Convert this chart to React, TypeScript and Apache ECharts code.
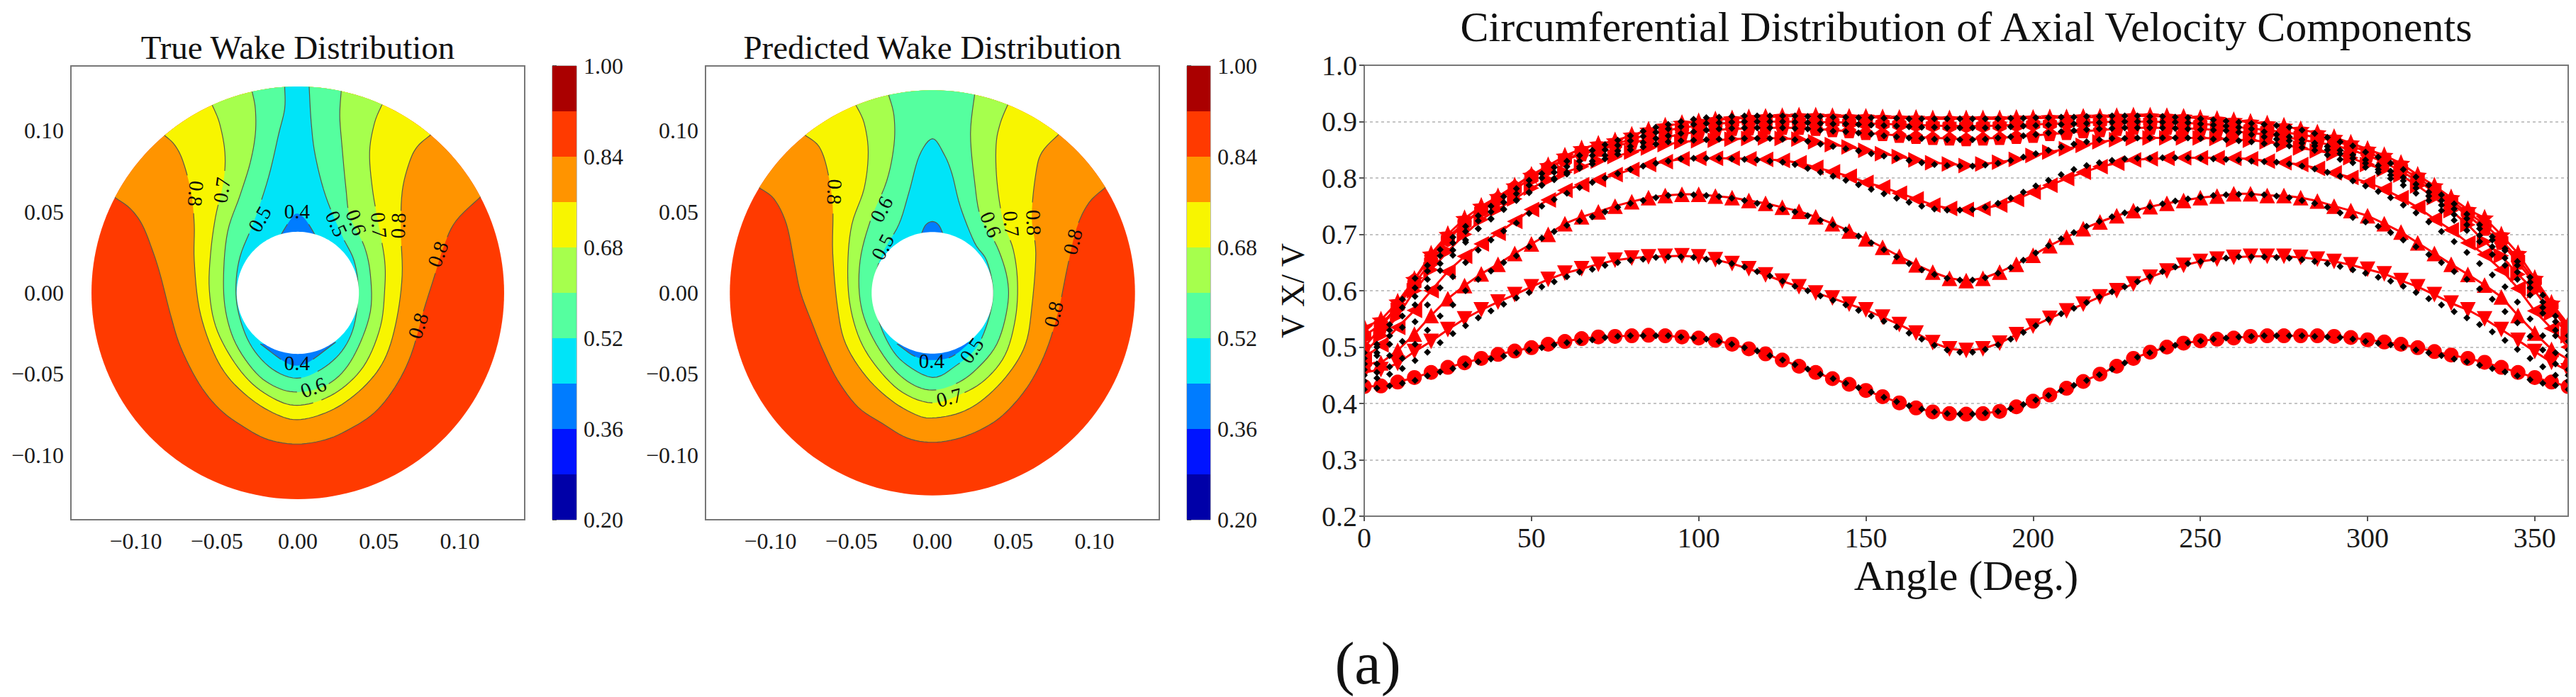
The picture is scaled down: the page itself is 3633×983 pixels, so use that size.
import React, { useEffect, useRef } from "react";
import * as echarts from "echarts";

const SERIF = "Liberation Serif";

// Colour bar levels and colours
const barLevels = [0.2, 0.28, 0.36, 0.44, 0.52, 0.6, 0.68, 0.76, 0.84, 0.92, 1.0];
const barColors = ["#0000a8", "#0014ff", "#007cff", "#00e4f8", "#55ff9f", "#a6ff4d", "#f8f500", "#ff9400", "#ff3a00", "#aa0000"];
const barTicks = [0.2, 0.36, 0.52, 0.68, 0.84, 1.0];
const discTicks = [-0.1, -0.05, 0, 0.05, 0.1];

// True wake: disc radii and contour lines [x, y]
const trueOuterR = 0.1273;
const trueInnerR = 0.0377;
const true84 = [[-.1130,.0589],[-.1036,.0522],[-.0961,.0422],[-.0898,.0266],[-.0848,.0109],[-.0785,-.0136],[-.0722,-.0337],[-.0609,-.0560],[-.0483,-.0717],[-.0332,-.0828],[-.0181,-.0906],[-.0005,-.0933],[.0171,-.0906],[.0322,-.0839],[.0473,-.0739],[.0599,-.0583],[.0699,-.0382],[.0775,-.0114],[.0838,.0087],[.0901,.0288],[.0976,.0444],[.1122,.0589]];
const true76 = [[-.0825,.0975],[-.0760,.0913],[-.0709,.0813],[-.0659,.0623],[-.0639,.0422],[-.0639,.0199],[-.0609,-.0092],[-.0533,-.0337],[-.0433,-.0516],[-.0282,-.0661],[-.0131,-.0750],[-.0005,-.0783],[.0146,-.0750],[.0297,-.0672],[.0448,-.0538],[.0548,-.0382],[.0611,-.0158],[.0644,.0109],[.0636,.0377],[.0644,.0623],[.0687,.0801],[.0737,.0902],[.0820,.0975]];
const true68 = [[-.0528,.1158],[-.0483,.1047],[-.0450,.0868],[-.0458,.0690],[-.0508,.0467],[-.0538,.0243],[-.0546,.0020],[-.0508,-.0203],[-.0408,-.0404],[-.0282,-.0560],[-.0131,-.0661],[-.0005,-.0694],[.0146,-.0661],[.0297,-.0571],[.0423,-.0426],[.0511,-.0203],[.0536,.0020],[.0536,.0199],[.0498,.0422],[.0460,.0645],[.0443,.0868],[.0473,.1047],[.0518,.1158]];
const true60 = [[-.0282,.1243],[-.0262,.1136],[-.0262,.0980],[-.0294,.0801],[-.0357,.0600],[-.0433,.0377],[-.0458,.0109],[-.0445,-.0114],[-.0382,-.0315],[-.0257,-.0495],[-.0131,-.0583],[-.0005,-.0612],[.0146,-.0583],[.0272,-.0495],[.0372,-.0337],[.0448,-.0114],[.0448,.0109],[.0410,.0288],[.0322,.0468],[.0297,.0645],[.0272,.0913],[.0259,.1092],[.0267,.1241]];
const true52 = [[-.0081,.1270],[-.0081,.1136],[-.0118,.0980],[-.0181,.0712],[-.0269,.0444],[-.0357,.0221],[-.0382,.0020],[-.0357,-.0158],[-.0282,-.0337],[-.0156,-.0471],[-.0005,-.0527],[.0146,-.0471],[.0272,-.0359],[.0347,-.0203],[.0372,.0020],[.0347,.0199],[.0272,.0355],[.0171,.0600],[.0108,.0846],[.0083,.1047],[.0070,.1270]];
const true44Top = [[-.0106,.0355],[-.0043,.0455],[-.0005,.0489],[.0045,.0455],[.0108,.0355]];
const true44Bottom = [[-.0231,-.0315],[-.0081,-.0426],[-.0005,-.0449],[.0070,-.0426],[.0234,-.0304]];
// [text, x, y, rotation in degrees]
const trueLabels: [string, number, number, number][] = [
  ["0.8",-.0629,.0612,-95],["0.7",-.0470,.0634,82],["0.5",-.0236,.0455,60],["0.4",-.0005,.0504,0],
  ["0.5",.0239,.0427,-65],["0.6",.0361,.0435,-70],["0.7",.0501,.0418,-85],["0.8",.0619,.0414,88],
  ["0.8",.0864,.0239,70],["0.8",.0742,-.0203,72],["0.4",-.0005,-.0431,0],["0.6",.0096,-.0583,20],
];

// Predicted wake
const predOuterR = 0.125;
const predInnerR = 0.0375;
const pred84 = [[-.1072,.0650],[-.0976,.0578],[-.0900,.0422],[-.0850,.0176],[-.0812,-.0002],[-.0736,-.0203],[-.0673,-.0359],[-.0585,-.0538],[-.0459,-.0705],[-.0308,-.0806],[-.0156,-.0895],[0,-.0922],[.0172,-.0895],[.0348,-.0817],[.0474,-.0717],[.0600,-.0560],[.0701,-.0359],[.0777,-.0114],[.0832,.0154],[.0890,.0400],[.0966,.0556],[.1067,.0650]];
const pred76 = [[-.0787,.0975],[-.0699,.0902],[-.0648,.0757],[-.0615,.0533],[-.0615,.0243],[-.0585,-.0092],[-.0535,-.0315],[-.0409,-.0516],[-.0257,-.0661],[-.0106,-.0750],[0,-.0772],[.0172,-.0739],[.0323,-.0650],[.0474,-.0493],[.0575,-.0315],[.0613,-.0092],[.0638,.0243],[.0613,.0467],[.0638,.0734],[.0676,.0868],[.0777,.0975]];
const pred68 = [[-.0472,.1158],[-.0421,.1047],[-.0396,.0868],[-.0421,.0645],[-.0497,.0422],[-.0522,.0176],[-.0509,-.0069],[-.0446,-.0292],[-.0333,-.0471],[-.0182,-.0616],[0,-.0679],[.0172,-.0627],[.0323,-.0538],[.0449,-.0382],[.0512,-.0158],[.0525,.0065],[.0499,.0266],[.0436,.0444],[.0398,.0690],[.0393,.0913],[.0419,.1047],[.0464,.1158]];
const pred60 = [[-.0270,.1221],[-.0237,.1092],[-.0237,.0913],[-.0282,.0690],[-.0383,.0444],[-.0446,.0199],[-.0446,-.0047],[-.0383,-.0248],[-.0257,-.0449],[-.0131,-.0560],[0,-.0600],[.0146,-.0560],[.0272,-.0471],[.0398,-.0315],[.0462,-.0092],[.0462,.0087],[.0398,.0288],[.0298,.0467],[.0260,.0690],[.0235,.0980],[.0260,.1221]];
const pred52 = [[0,.0951],[-.0081,.0846],[-.0144,.0623],[-.0207,.0422],[-.0308,.0243],[-.0358,.0065],[-.0346,-.0114],[-.0282,-.0292],[-.0182,-.0426],[0,-.0522],[.0146,-.0449],[.0272,-.0337],[.0348,-.0158],[.0373,.0020],[.0335,.0199],[.0260,.0310],[.0172,.0533],[.0121,.0734],[.0071,.0857]];
const pred44Top = [[-.0073,.0350],[-.0043,.0417],[0,.0440],[.0040,.0417],[.0071,.0350]];
const pred44Bottom = [[-.0219,-.0315],[-.0106,-.0393],[0,-.0415],[.0121,-.0393],[.0235,-.0304]];
const predLabels: [string, number, number, number][] = [
  ["0.8",-.0603,.0623,-92],["0.6",-.0315,.0516,62],["0.5",-.0308,.0283,62],["0.6",.0361,.0422,-68],
  ["0.7",.0487,.0426,-85],["0.8",.0625,.0433,-88],["0.8",.0865,.0315,75],["0.8",.0747,-.0132,75],
  ["0.4",-.0005,-.0422,0],["0.5",.0242,-.0355,55],["0.7",.0103,-.0645,15],
];

// Circumferential distribution
const angleTicks = [0, 50, 100, 150, 200, 250, 300, 350];
const redAngles = [0,5,10,15,20,25,30,35,40,45,50,55,60,65,70,75,80,85,90,95,100,105,110,115,120,125,130,135,140,145,150,155,160,165,170,175,180,185,190,195,200,205,210,215,220,225,230,235,240,245,250,255,260,265,270,275,280,285,290,295,300,305,310,315,320,325,330,335,340,345,350,355,360];
const redCircle = [.43,.431,.438,.446,.455,.464,.472,.48,.487,.493,.499,.505,.51,.515,.518,.519,.52,.521,.52,.518,.516,.512,.505,.497,.488,.477,.466,.455,.444,.434,.423,.412,.401,.392,.385,.382,.381,.382,.386,.394,.404,.415,.427,.439,.452,.466,.48,.491,.5,.507,.511,.514,.516,.519,.52,.52,.52,.52,.519,.517,.513,.509,.505,.499,.492,.486,.48,.473,.464,.455,.446,.438,.43];
const redDown = [.455,.46,.471,.492,.51,.531,.55,.566,.58,.593,.607,.62,.631,.639,.647,.654,.658,.66,.661,.662,.66,.655,.648,.639,.628,.617,.607,.596,.587,.576,.566,.553,.54,.525,.508,.497,.494,.497,.507,.522,.537,.551,.564,.576,.589,.6,.612,.624,.635,.645,.652,.656,.659,.661,.661,.661,.659,.656,.652,.646,.638,.63,.618,.607,.593,.578,.566,.55,.531,.512,.492,.473,.458];
const redUp = [.47,.472,.494,.523,.556,.586,.609,.63,.647,.666,.683,.7,.719,.731,.74,.75,.758,.765,.769,.771,.771,.768,.765,.76,.755,.748,.741,.731,.719,.706,.692,.677,.661,.646,.633,.622,.618,.622,.633,.647,.663,.68,.695,.71,.722,.733,.742,.749,.755,.76,.765,.768,.772,.772,.769,.769,.765,.759,.75,.742,.733,.719,.704,.685,.666,.647,.629,.61,.589,.556,.525,.496,.478];
const redLeft = [.48,.504,.535,.565,.6,.634,.661,.683,.702,.723,.744,.761,.778,.788,.797,.806,.815,.824,.829,.834,.835,.835,.835,.834,.833,.831,.827,.819,.811,.803,.792,.784,.773,.763,.752,.746,.744,.746,.752,.762,.775,.787,.799,.81,.82,.826,.832,.834,.835,.836,.836,.836,.835,.834,.83,.827,.824,.817,.809,.801,.792,.78,.765,.748,.727,.708,.685,.664,.637,.604,.564,.533,.5];
const redRight = [.49,.52,.555,.6,.637,.67,.7,.726,.745,.763,.782,.797,.81,.82,.83,.838,.846,.853,.859,.864,.866,.867,.869,.87,.871,.87,.869,.864,.859,.855,.849,.843,.838,.832,.827,.825,.822,.825,.828,.833,.84,.846,.852,.858,.864,.868,.87,.871,.871,.871,.871,.87,.868,.867,.864,.859,.853,.848,.843,.836,.824,.815,.805,.786,.765,.742,.717,.687,.662,.629,.6,.56,.52];
const redPentagon = [.5,.535,.575,.62,.66,.695,.72,.745,.765,.785,.805,.82,.832,.842,.85,.857,.863,.868,.872,.878,.882,.885,.887,.888,.889,.889,.889,.887,.885,.883,.88,.878,.875,.873,.871,.87,.869,.87,.871,.873,.875,.878,.88,.883,.885,.887,.889,.889,.889,.888,.887,.885,.883,.88,.877,.873,.868,.863,.858,.85,.84,.828,.812,.795,.775,.755,.733,.71,.685,.65,.612,.57,.53];
const redHexagon = [.52,.54,.572,.612,.652,.69,.72,.742,.762,.78,.8,.816,.832,.845,.853,.86,.869,.877,.884,.889,.893,.896,.898,.9,.9,.9,.9,.899,.899,.898,.897,.896,.895,.894,.893,.892,.892,.892,.893,.894,.895,.896,.897,.898,.899,.9,.9,.9,.899,.898,.896,.894,.891,.888,.885,.881,.877,.872,.866,.857,.846,.833,.818,.8,.78,.76,.738,.718,.69,.657,.617,.574,.535];
const redStar = [.535,.548,.58,.62,.665,.7,.728,.75,.767,.786,.805,.822,.839,.852,.86,.866,.876,.885,.892,.897,.9,.903,.905,.907,.908,.909,.91,.91,.909,.908,.908,.907,.906,.906,.905,.905,.905,.905,.905,.906,.906,.907,.907,.908,.908,.909,.91,.91,.909,.908,.906,.904,.902,.899,.896,.892,.886,.88,.872,.862,.851,.84,.826,.805,.786,.765,.744,.729,.699,.666,.622,.578,.54];

const blackAngles = [0,3.8,7.6,11.4,15.2,18.9,22.7,26.5,30.3,34.1,37.9,41.7,45.5,49.3,53.1,56.8,60.6,64.4,68.2,72,75.8,79.6,83.4,87.2,90.9,94.7,98.5,102.3,106.1,109.9,113.7,117.5,121.3,125.1,128.8,132.6,136.4,140.2,144,147.8,151.6,155.4,159.2,162.9,166.7,170.5,174.3,178.1,181.9,185.7,189.5,193.3,197.1,200.8,204.6,208.4,212.2,216,219.8,223.6,227.4,231.2,234.9,238.7,242.5,246.3,250.1,253.9,257.7,261.5,265.3,269.1,272.8,276.6,280.4,284.2,288,291.8,295.6,299.4,303.2,306.9,310.7,314.5,318.3,322.1,325.9,329.7,333.5,337.3,341.1,344.8,348.6,352.4,356.2,360];
const blackA = [.425,.427,.431,.436,.441,.449,.456,.462,.469,.474,.479,.484,.49,.495,.499,.504,.508,.51,.513,.517,.519,.52,.52,.52,.52,.518,.516,.514,.51,.505,.499,.493,.485,.477,.469,.461,.452,.444,.436,.428,.42,.411,.403,.396,.39,.385,.382,.381,.381,.383,.386,.391,.398,.406,.414,.423,.432,.441,.451,.461,.472,.482,.49,.497,.503,.508,.511,.514,.516,.518,.519,.52,.52,.52,.52,.519,.518,.517,.514,.51,.507,.504,.5,.495,.49,.485,.479,.474,.468,.462,.456,.449,.442,.436,.432,.425];
const blackB = [.44,.445,.452,.462,.476,.491,.508,.524,.538,.552,.564,.576,.587,.597,.607,.616,.625,.633,.638,.645,.65,.654,.656,.659,.66,.66,.659,.656,.652,.648,.642,.634,.626,.617,.608,.6,.591,.583,.575,.565,.555,.546,.536,.525,.514,.503,.495,.491,.491,.496,.504,.514,.526,.538,.549,.559,.569,.579,.589,.598,.607,.616,.625,.634,.642,.648,.652,.656,.658,.66,.66,.66,.659,.658,.655,.652,.648,.643,.637,.631,.624,.617,.608,.597,.586,.575,.563,.552,.54,.527,.512,.496,.48,.465,.45,.44];
const blackC = [.45,.455,.465,.48,.505,.53,.555,.575,.6,.62,.635,.65,.662,.678,.693,.705,.716,.724,.731,.74,.748,.755,.76,.765,.769,.77,.77,.769,.767,.764,.76,.755,.75,.745,.74,.733,.725,.717,.708,.697,.685,.673,.66,.648,.637,.629,.622,.619,.619,.623,.631,.641,.654,.667,.68,.692,.703,.714,.723,.731,.738,.744,.749,.754,.759,.763,.766,.769,.77,.771,.771,.77,.768,.765,.76,.755,.748,.738,.73,.722,.714,.703,.69,.678,.664,.65,.634,.62,.603,.585,.563,.543,.519,.495,.47,.45];
const blackD = [.46,.47,.485,.51,.545,.575,.605,.625,.65,.672,.69,.706,.72,.737,.75,.762,.773,.783,.792,.8,.808,.815,.821,.826,.83,.834,.835,.835,.835,.834,.833,.832,.83,.828,.824,.817,.81,.803,.796,.788,.78,.772,.764,.757,.75,.745,.743,.743,.744,.748,.755,.764,.775,.786,.796,.806,.815,.822,.827,.831,.834,.835,.835,.836,.836,.836,.835,.834,.833,.832,.83,.829,.828,.825,.821,.816,.81,.803,.795,.786,.776,.765,.752,.738,.722,.705,.687,.668,.648,.628,.607,.58,.55,.52,.49,.46];
const blackE = [.47,.485,.505,.535,.575,.605,.636,.663,.686,.71,.727,.744,.761,.775,.787,.797,.807,.817,.825,.834,.842,.85,.855,.86,.864,.866,.867,.868,.869,.87,.87,.87,.87,.869,.868,.865,.86,.856,.852,.848,.843,.839,.835,.831,.827,.824,.822,.821,.821,.823,.826,.831,.837,.843,.849,.855,.86,.864,.868,.87,.87,.871,.871,.871,.871,.871,.87,.869,.868,.866,.864,.861,.859,.857,.854,.849,.841,.833,.827,.819,.81,.799,.787,.773,.76,.742,.725,.707,.687,.664,.645,.62,.592,.56,.52,.485];
const blackF = [.47,.49,.52,.555,.59,.62,.648,.672,.69,.71,.728,.745,.76,.774,.787,.799,.81,.82,.83,.84,.848,.856,.863,.87,.875,.879,.882,.885,.887,.888,.889,.889,.889,.889,.888,.887,.885,.883,.882,.88,.878,.875,.873,.871,.87,.869,.868,.868,.868,.869,.871,.873,.875,.877,.88,.882,.884,.886,.887,.888,.889,.889,.889,.889,.888,.887,.886,.885,.884,.881,.877,.873,.869,.866,.862,.857,.85,.843,.835,.826,.815,.805,.795,.782,.768,.752,.735,.717,.698,.678,.658,.633,.605,.57,.53,.495];
const blackG = [.48,.5,.53,.57,.605,.635,.662,.685,.705,.724,.74,.757,.772,.787,.8,.81,.82,.83,.84,.85,.858,.866,.874,.881,.887,.891,.895,.897,.898,.899,.9,.9,.9,.9,.899,.898,.897,.896,.896,.895,.894,.893,.892,.891,.89,.89,.889,.889,.889,.889,.89,.891,.892,.893,.894,.895,.896,.897,.898,.899,.9,.9,.9,.899,.899,.898,.896,.894,.892,.89,.887,.882,.877,.873,.868,.862,.856,.849,.841,.832,.822,.812,.801,.789,.775,.76,.745,.728,.71,.69,.671,.645,.615,.58,.545,.51];
const blackH = [.49,.505,.54,.585,.622,.645,.673,.695,.714,.733,.75,.767,.781,.796,.808,.819,.83,.84,.849,.859,.867,.875,.883,.89,.895,.9,.904,.907,.908,.909,.91,.91,.91,.91,.91,.909,.909,.908,.908,.907,.907,.906,.906,.905,.905,.905,.905,.905,.905,.905,.905,.906,.906,.907,.907,.908,.908,.909,.909,.91,.91,.91,.909,.909,.908,.907,.905,.903,.901,.899,.897,.895,.893,.89,.885,.879,.872,.864,.857,.846,.837,.826,.815,.802,.787,.77,.754,.736,.717,.696,.675,.652,.624,.592,.555,.52];

const redCurves: { values: number[]; symbol: string; rotate: number; size: number | number[] }[] = [
  { values: redStar, symbol: "path://M10 0L12.9 6.9L20 7.6L14.6 12.4L16.2 20L10 16L3.8 20L5.4 12.4L0 7.6L7.1 6.9Z", rotate: 0, size: 26 },
  { values: redHexagon, symbol: "path://M10 0L20 5L20 15L10 20L0 15L0 5Z", rotate: 0, size: 20 },
  { values: redPentagon, symbol: "path://M10 0L20 7.6L16.2 20L3.8 20L0 7.6Z", rotate: 0, size: 20 },
  { values: redRight, symbol: "triangle", rotate: -90, size: 22 },
  { values: redLeft, symbol: "triangle", rotate: 90, size: 22 },
  { values: redUp, symbol: "triangle", rotate: 0, size: 22 },
  { values: redDown, symbol: "triangle", rotate: 180, size: 22 },
  { values: redCircle, symbol: "circle", rotate: 0, size: 21 },
];
const blackCurves = [blackH, blackG, blackF, blackE, blackD, blackC, blackB, blackA];

function zip(xs: number[], ys: number[]) {
  return ys.map((y, i) => [xs[i], y]);
}

function spline(p: number[][], closed: boolean) {
  const out: number[][] = [];
  const n = p.length;
  const at = (i: number) => (closed ? p[(i + n) % n] : p[Math.max(0, Math.min(n - 1, i))]);
  const last = closed ? n : n - 1;
  for (let i = 0; i < last; i++) {
    const [a, b, c, d] = [at(i - 1), at(i), at(i + 1), at(i + 2)];
    for (let k = 0; k < 6; k++) {
      const t = k / 6;
      const f = (j: number) =>
        0.5 * (2 * b[j] + (c[j] - a[j]) * t + (2 * a[j] - 5 * b[j] + 4 * c[j] - d[j]) * t * t + (3 * b[j] - a[j] - 3 * c[j] + d[j]) * t * t * t);
      out.push([f(0), f(1)]);
    }
  }
  out.push(closed ? at(0) : p[n - 1]);
  return out;
}

function ringPoints(api: any, r: number) {
  const pts: number[][] = [];
  for (let i = 0; i < 180; i++) {
    const a = (i / 180) * Math.PI * 2;
    pts.push(api.coord([r * Math.cos(a), r * Math.sin(a)]));
  }
  return pts;
}

function discSeries(axis: number, r: number, fill: string) {
  return {
    type: "custom",
    coordinateSystem: "cartesian2d",
    xAxisIndex: axis,
    yAxisIndex: axis,
    silent: true,
    data: [[0, 0]],
    renderItem: (_: any, api: any) => ({ type: "polygon", shape: { points: ringPoints(api, r) }, style: { fill } }),
  };
}

function contourSeries(
  axis: number,
  line: number[][],
  fill: string,
  labels: [string, number, number, number][],
  opts: { outerR?: number; closed?: boolean },
) {
  return {
    type: "custom",
    coordinateSystem: "cartesian2d",
    xAxisIndex: axis,
    yAxisIndex: axis,
    silent: true,
    data: [[0, 0]],
    renderItem: (_: any, api: any) => {
      const R = opts.outerR;
      let pts = line;
      if (R) {
        const snap = (p: number[]) => {
          const k = R / Math.hypot(p[0], p[1]);
          return [p[0] * k, p[1] * k];
        };
        pts = line.map((p, i) => (i === 0 || i === line.length - 1 ? snap(p) : p));
      }
      const curve = spline(pts.map((p) => api.coord(p)), !!opts.closed);
      const outline = curve.slice();
      if (R) {
        const e = pts[pts.length - 1];
        const s = pts[0];
        const a0 = Math.atan2(e[1], e[0]);
        const a1 = Math.atan2(s[1], s[0]);
        for (let i = 1; i < 40; i++) {
          const a = a0 + ((a1 - a0) * i) / 40;
          outline.push(api.coord([R * Math.cos(a), R * Math.sin(a)]));
        }
      }
      const centres = labels.map((l) => api.coord([l[1], l[2]]));
      const runs: number[][][] = [];
      let run: number[][] = [];
      for (const p of curve) {
        if (centres.some((c) => Math.hypot(c[0] - p[0], c[1] - p[1]) < 21)) {
          if (run.length > 1) runs.push(run);
          run = [];
        } else run.push(p);
      }
      if (run.length > 1) runs.push(run);
      return {
        type: "group",
        children: [
          { type: "polygon", shape: { points: outline }, style: { fill } },
          ...runs.map((r) => ({
            type: "polyline",
            shape: { points: r },
            style: { stroke: "#5a5a46", lineWidth: 1.2, fill: "none" },
          })),
        ],
      };
    },
  };
}

function labelSeries(axis: number, labels: [string, number, number, number][]) {
  return {
    type: "custom",
    coordinateSystem: "cartesian2d",
    xAxisIndex: axis,
    yAxisIndex: axis,
    silent: true,
    data: labels.map((l) => [l[1], l[2]]),
    renderItem: (p: any, api: any) => {
      const l = labels[p.dataIndex];
      const c = api.coord([l[1], l[2]]);
      return {
        type: "text",
        x: c[0],
        y: c[1],
        rotation: (l[3] * Math.PI) / 180,
        style: { text: l[0], fontFamily: SERIF, fontSize: 29, fill: "#0a0a0a", align: "center", verticalAlign: "middle" },
      };
    },
  };
}

function barSeries(axis: number) {
  return {
    type: "custom",
    coordinateSystem: "cartesian2d",
    xAxisIndex: axis,
    yAxisIndex: axis,
    silent: true,
    data: barColors.map((_, i) => [0, barLevels[i]]),
    renderItem: (p: any, api: any) => {
      const i = p.dataIndex;
      const a = api.coord([0, barLevels[i + 1]]);
      const b = api.coord([1, barLevels[i]]);
      return { type: "rect", shape: { x: a[0], y: a[1], width: b[0] - a[0], height: b[1] - a[1] }, style: { fill: barColors[i] } };
    },
  };
}

function wake(axis: number, R: number, r: number, c84: number[][], c76: number[][], c68: number[][], c60: number[][], c52: number[][], top: number[][], bottom: number[][], labels: [string, number, number, number][], closed52: boolean) {
  return [
    discSeries(axis, R, barColors[8]),
    contourSeries(axis, c84, barColors[7], labels, { outerR: R }),
    contourSeries(axis, c76, barColors[6], labels, { outerR: R }),
    contourSeries(axis, c68, barColors[5], labels, { outerR: R }),
    contourSeries(axis, c60, barColors[4], labels, { outerR: R }),
    contourSeries(axis, c52, barColors[3], labels, closed52 ? { closed: true } : { outerR: R }),
    contourSeries(axis, top, barColors[2], labels, {}),
    contourSeries(axis, bottom, barColors[2], labels, {}),
    discSeries(axis, r, "#ffffff"),
    labelSeries(axis, labels),
  ];
}

const minus = (v: number, d: number) => (v < 0 ? "\u2212" : "") + Math.abs(v).toFixed(d);
const tickFont = { fontFamily: SERIF, fontSize: 32, color: "#1a1a1a" };
const tickLine = { show: true, length: 7, lineStyle: { color: "#555", width: 2 } };

function discAxes(grid: number) {
  const base = {
    type: "value" as const,
    gridIndex: grid,
    min: -0.14,
    max: 0.14,
    axisLine: { show: false },
    splitLine: { show: false },
  };
  return {
    x: { ...base, axisTick: { ...tickLine, customValues: discTicks }, axisLabel: { ...tickFont, margin: 14, customValues: discTicks, formatter: (v: number) => minus(v, 2) } },
    y: { ...base, axisTick: { ...tickLine, customValues: discTicks }, axisLabel: { ...tickFont, margin: 10, customValues: discTicks, formatter: (v: number) => minus(v, 2) } },
  };
}

function barAxes(grid: number) {
  return {
    x: { type: "value" as const, gridIndex: grid, min: 0, max: 1, show: false },
    y: {
      type: "value" as const,
      gridIndex: grid,
      min: 0.2,
      max: 1,
      position: "right" as const,
      axisLine: { show: false },
      splitLine: { show: false },
      axisTick: { show: true, length: 6, lineStyle: { color: "#555", width: 2 }, customValues: barTicks },
      axisLabel: { ...tickFont, margin: 10, customValues: barTicks, formatter: (v: number) => v.toFixed(2) },
    },
  };
}

function buildOption() {
  const d1 = discAxes(0), c1 = barAxes(1), d2 = discAxes(2), c2 = barAxes(3);
  const frame = { show: true, borderColor: "#777", borderWidth: 2, backgroundColor: "#fff" };
  const text = (t: string, x: number, y: number, size: number) => ({
    type: "text" as const,
    x,
    y,
    silent: true,
    style: { text: t, fontFamily: SERIF, fontSize: size, fill: "#111", align: "center", verticalAlign: "middle" },
  });
  return {
    animation: false,
    backgroundColor: "#ffffff",
    grid: [
      { left: 100, top: 93, width: 640, height: 640, ...frame },
      { left: 779, top: 93, width: 34, height: 640, ...frame, borderWidth: 1 },
      { left: 995, top: 93, width: 640, height: 640, ...frame },
      { left: 1674, top: 93, width: 33, height: 640, ...frame, borderWidth: 1 },
      { left: 1924, top: 92, width: 1698, height: 636, ...frame },
    ],
    xAxis: [
      d1.x, c1.x, d2.x, c2.x,
      {
        type: "value", gridIndex: 4, min: 0, max: 360,
        axisLine: { show: false }, splitLine: { show: false },
        axisTick: { ...tickLine, customValues: angleTicks },
        axisLabel: { fontFamily: SERIF, fontSize: 40, color: "#1a1a1a", margin: 10, customValues: angleTicks },
        name: "Angle (Deg.)", nameLocation: "middle", nameGap: 54, nameMoveOverlap: false,
        nameTextStyle: { fontFamily: SERIF, fontSize: 60, color: "#111" },
      },
    ],
    yAxis: [
      d1.y, c1.y, d2.y, c2.y,
      {
        type: "value", gridIndex: 4, min: 0.2, max: 1, interval: 0.1, position: "left",
        axisLine: { show: false }, axisTick: { show: false }, axisLabel: { show: false },
        splitLine: { show: true, showMinLine: false, showMaxLine: false, lineStyle: { color: "#c4c4c4", width: 2, type: [4, 4] } },
      },
      {
        type: "value", gridIndex: 4, min: 0.2, max: 1, interval: 0.1, position: "left", z: 6,
        splitLine: { show: false },
        axisLine: { show: true, onZero: false, lineStyle: { color: "#777", width: 2 } },
        axisTick: tickLine,
        axisLabel: { fontFamily: SERIF, fontSize: 40, color: "#1a1a1a", margin: 10, formatter: (v: number) => v.toFixed(1) },
        name: "V X/ V", nameLocation: "middle", nameRotate: 90, nameGap: 78, nameMoveOverlap: false,
        nameTextStyle: { fontFamily: SERIF, fontSize: 46, color: "#111" },
      },
    ],
    graphic: [
      text("True Wake Distribution", 420, 67, 47),
      text("Predicted Wake Distribution", 1315, 67, 47),
      text("Circumferential Distribution of Axial Velocity Components", 2773, 38, 60),
      text("(a)", 1929, 935, 84),
      { type: "rect", z: 5, silent: true, shape: { x: 1905, y: 84, width: 18, height: 652 }, style: { fill: "#ffffff" } },
      { type: "rect", z: 5, silent: true, shape: { x: 3623, y: 84, width: 10, height: 652 }, style: { fill: "#ffffff" } },
      { type: "rect", z: 5, silent: true, shape: { x: 3621, y: 92, width: 2, height: 636 }, style: { fill: "#777777" } },
    ],
    series: [
      ...wake(0, trueOuterR, trueInnerR, true84, true76, true68, true60, true52, true44Top, true44Bottom, trueLabels, false),
      barSeries(1),
      ...wake(2, predOuterR, predInnerR, pred84, pred76, pred68, pred60, pred52, pred44Top, pred44Bottom, predLabels, true),
      barSeries(3),
      ...redCurves.map((c) => ({
        type: "line",
        xAxisIndex: 4,
        yAxisIndex: 4,
        silent: true,
        z: 3,
        data: zip(redAngles, c.values),
        symbol: c.symbol,
        symbolSize: c.size,
        symbolRotate: c.rotate,
        showSymbol: true,
        showAllSymbol: true,
        lineStyle: { color: "#ff0000", width: 3 },
        itemStyle: { color: "#ff0000" },
      })),
      ...blackCurves.map((values) => ({
        type: "line",
        xAxisIndex: 4,
        yAxisIndex: 4,
        silent: true,
        z: 4,
        data: zip(blackAngles, values),
        symbol: "diamond",
        symbolSize: 10,
        showSymbol: true,
        showAllSymbol: true,
        lineStyle: { width: 0, opacity: 0 },
        itemStyle: { color: "#000000" },
      })),
    ],
  };
}

export default function App() {
  const ref = useRef<HTMLDivElement | null>(null);
  useEffect(() => {
    const chart = echarts.init(ref.current as HTMLDivElement, undefined, { renderer: "svg" });
    chart.setOption(buildOption() as any);
    return () => chart.dispose();
  }, []);
  return <div ref={ref} style={{ position: "absolute", left: 0, top: 0, width: 3633, height: 983 }} />;
}
